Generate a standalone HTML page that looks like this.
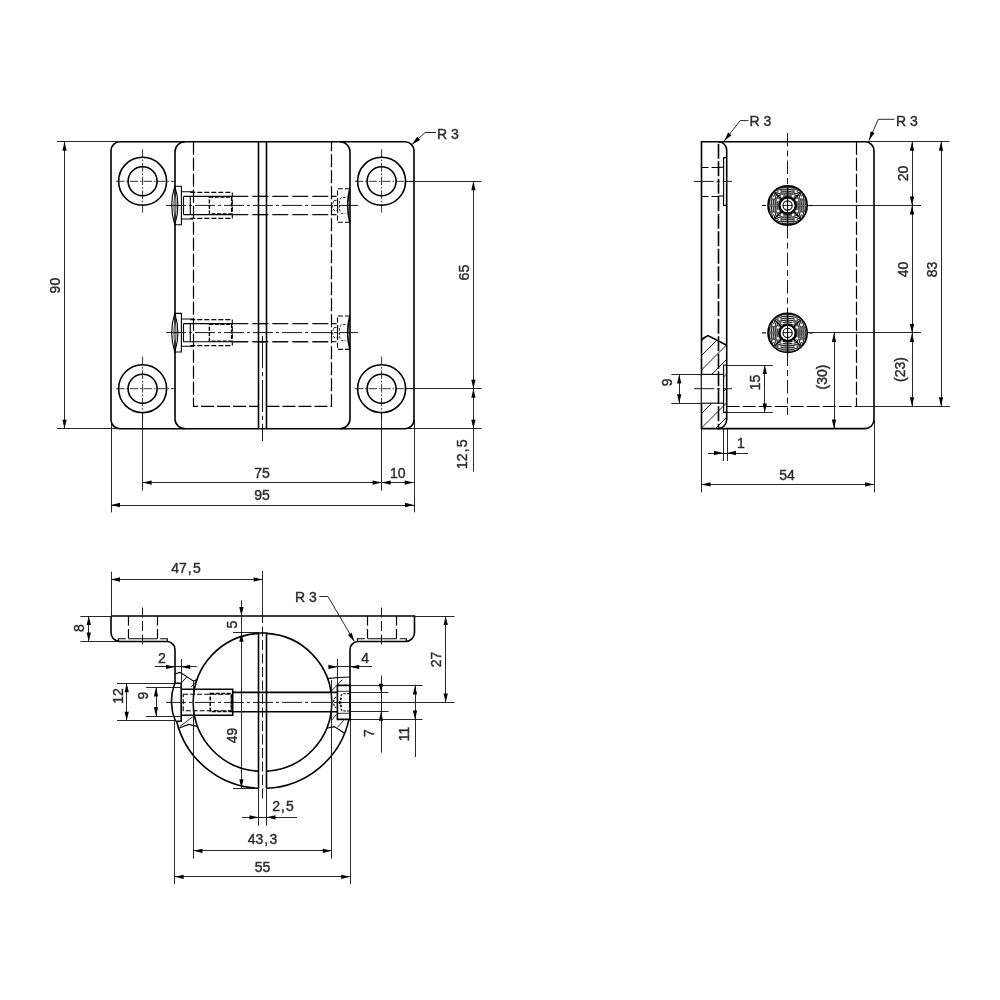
<!DOCTYPE html>
<html><head><meta charset="utf-8"><style>
html,body{margin:0;padding:0;background:#fff;}
svg{display:block;will-change:transform;}
.k{fill:none;stroke:#000;stroke-width:1.6;}
.k2{fill:none;stroke:#000;stroke-width:1.1;}
.t{fill:none;stroke:#111;stroke-width:0.9;}
.h{fill:none;stroke:#000;stroke-width:1.2;stroke-dasharray:13 3;}
.h2{fill:none;stroke:#000;stroke-width:1.1;stroke-dasharray:5 2;}
.h3{fill:none;stroke:#111;stroke-width:1.4;stroke-dasharray:16 4;}
.h7{fill:none;stroke:#000;stroke-width:1.4;stroke-dasharray:4 1.5;}
.h4{fill:none;stroke:#000;stroke-width:0.9;stroke-dasharray:2.5 1.5;}
.h5{fill:none;stroke:#000;stroke-width:1.6;stroke-dasharray:15 2.5;}
.h6{fill:none;stroke:#000;stroke-width:1.1;stroke-dasharray:7 3;}
.c{fill:none;stroke:#000;stroke-width:0.9;stroke-dasharray:38 4 3 4;}
.cs{fill:none;stroke:#000;stroke-width:0.9;stroke-dasharray:13.5 4 6 4;}
.c4{fill:none;stroke:#000;stroke-width:0.9;stroke-dasharray:32 4 4 4;}
.cb{fill:none;stroke:#000;stroke-width:0.9;stroke-dasharray:10 3.5;}
.k3{fill:none;stroke:#000;stroke-width:0.8;}
.h8{fill:none;stroke:#000;stroke-width:1.1;stroke-dasharray:2.5 1.2;}
.hh{fill:none;stroke:#000;stroke-width:1.2;stroke-dasharray:9.5 3.5;}
.c2{fill:none;stroke:#000;stroke-width:0.8;stroke-dasharray:8.5 1.8 1.6 1.8;}
.c3{fill:none;stroke:#000;stroke-width:0.9;stroke-dasharray:20 3 3 3;}
.hl{fill:none;stroke:#000;stroke-width:0.9;}
.ar{fill:#000;stroke:none;}
.knob{fill:#2a2a2a;stroke:#000;stroke-width:1.5;}
.kr{fill:none;stroke:#777;stroke-width:0.6;}
.kw{fill:#fff;stroke:none;}
.kd{fill:none;stroke:#000;stroke-width:2;}
text{font-family:"Liberation Sans",sans-serif;font-size:14px;fill:#2b2b2b;stroke:#2b2b2b;stroke-width:0.4;text-anchor:middle;}
</style></head><body>
<svg width="1000" height="1000" viewBox="0 0 1000 1000">
<path class="k" d="M120,141.8H405A9,9 0 0 1 414,150.8V419.7A9,9 0 0 1 405,428.7H120A9,9 0 0 1 111,419.7V150.8A9,9 0 0 1 120,141.8Z"/>
<path class="k" d="M175,418.7V151.8A10,10 0 0 1 185,141.8"/>
<path class="k" d="M340,141.8A10,10 0 0 1 350,151.8V418.7A10,10 0 0 1 340,428.7"/>
<path class="k" d="M175,418.7A10,10 0 0 0 185,428.7"/>
<line class="k" x1="258.5" y1="141.8" x2="258.5" y2="428.7"/>
<line class="k" x1="266.5" y1="141.8" x2="266.5" y2="428.7"/>
<line class="c4" x1="262.5" y1="336" x2="262.5" y2="441"/>
<path class="h" d="M193.5,141.8V406.3H258.5M266.5,406.3H331.5V141.8"/>
<circle class="k" cx="142.6" cy="181.3" r="24"/>
<circle class="k" cx="142.6" cy="181.3" r="14.5"/>
<line class="c2" x1="142.6" y1="149.3" x2="142.6" y2="213.3"/>
<line class="c2" x1="116.1" y1="181.3" x2="174.8" y2="181.3"/>
<circle class="k" cx="142.6" cy="388.7" r="24"/>
<circle class="k" cx="142.6" cy="388.7" r="14.5"/>
<line class="c2" x1="142.6" y1="356.7" x2="142.6" y2="420.7"/>
<line class="c2" x1="116.1" y1="388.7" x2="174.8" y2="388.7"/>
<circle class="k" cx="381.6" cy="181.3" r="24"/>
<circle class="k" cx="381.6" cy="181.3" r="14.5"/>
<line class="c2" x1="381.6" y1="149.3" x2="381.6" y2="213.3"/>
<line class="c2" x1="354.8" y1="181.3" x2="413" y2="181.3"/>
<circle class="k" cx="381.6" cy="388.7" r="24"/>
<circle class="k" cx="381.6" cy="388.7" r="14.5"/>
<line class="c2" x1="381.6" y1="356.7" x2="381.6" y2="420.7"/>
<line class="c2" x1="354.8" y1="388.7" x2="413" y2="388.7"/>
<path class="k2" d="M174.8,186.20000000000002Q168.6,205.4 174.8,224.8Q181,205.4 174.8,186.20000000000002Z"/>
<ellipse cx="175" cy="205.4" rx="1.3" ry="9" fill="#888" stroke="#333" stroke-width="0.5"/>
<path class="k2" d="M174.8,186.20000000000002H181.4V224.8H174.8M181.4,191.8H193.3M181.4,219.0H193.3"/>
<path class="h2" d="M190.3,192.4H232.3V218.4H190.3"/>
<path class="k2" d="M183.5,196.4H232.3M183.5,214.6H232.3M183.5,196.4V214.6M190.3,196.4V214.6"/>
<path class="h7" d="M209.4,197.1H231.6V213.9H209.4Z"/>
<line class="h3" x1="232.3" y1="196.4" x2="331.5" y2="196.4"/>
<line class="h3" x1="232.3" y1="214.6" x2="331.5" y2="214.6"/>
<line class="k2" x1="258.5" y1="196.4" x2="266.5" y2="196.4"/>
<line class="k2" x1="258.5" y1="214.6" x2="266.5" y2="214.6"/>
<line class="c3" x1="166" y1="205.4" x2="358" y2="205.4"/>
<path class="h2" d="M331.5,196.4H337.5V188.8H349.8M331.5,214.6H337.5V222.20000000000002H349.8"/>
<path class="k" d="M349.8,188.8Q345.5,205.4 349.8,222.20000000000002"/>
<path class="h4" d="M334,200.4H337.5V210.4H334Q331.5,205.4 334,200.4M345.5,197.4H341.5Q339.5,199.4 339.5,202.4V208.4Q339.5,211.4 341.5,213.4H345.5"/>
<line class="k2" x1="337.6" y1="197.9" x2="337.6" y2="212.9"/>
<path class="k2" d="M174.8,313.40000000000003Q168.6,332.6 174.8,352.0Q181,332.6 174.8,313.40000000000003Z"/>
<ellipse cx="175" cy="332.6" rx="1.3" ry="9" fill="#888" stroke="#333" stroke-width="0.5"/>
<path class="k2" d="M174.8,313.40000000000003H181.4V352.0H174.8M181.4,319.0H193.3M181.4,346.20000000000005H193.3"/>
<path class="h2" d="M190.3,319.6H232.3V345.6H190.3"/>
<path class="k2" d="M183.5,323.6H232.3M183.5,341.8H232.3M183.5,323.6V341.8M190.3,323.6V341.8"/>
<path class="h7" d="M209.4,324.3H231.6V341.1H209.4Z"/>
<line class="h3" x1="232.3" y1="323.6" x2="331.5" y2="323.6"/>
<line class="h3" x1="232.3" y1="341.8" x2="331.5" y2="341.8"/>
<line class="k2" x1="258.5" y1="323.6" x2="266.5" y2="323.6"/>
<line class="k2" x1="258.5" y1="341.8" x2="266.5" y2="341.8"/>
<line class="c3" x1="166" y1="332.6" x2="358" y2="332.6"/>
<path class="h2" d="M331.5,323.6H337.5V316.0H349.8M331.5,341.8H337.5V349.40000000000003H349.8"/>
<path class="k" d="M349.8,316.0Q345.5,332.6 349.8,349.40000000000003"/>
<path class="h4" d="M334,327.6H337.5V337.6H334Q331.5,332.6 334,327.6M345.5,324.6H341.5Q339.5,326.6 339.5,329.6V335.6Q339.5,338.6 341.5,340.6H345.5"/>
<line class="k2" x1="337.6" y1="325.1" x2="337.6" y2="340.1"/>
<line class="t" x1="57" y1="141.5" x2="118" y2="141.5"/>
<line class="t" x1="57" y1="428.5" x2="118" y2="428.5"/>
<line class="t" x1="64.5" y1="141.8" x2="64.5" y2="428.7"/>
<path class="ar" d="M64.50,141.80L66.65,150.80L62.35,150.80Z"/>
<path class="ar" d="M64.50,428.70L62.35,419.70L66.65,419.70Z"/>
<text x="60.1" y="285.6" transform="rotate(-90 60.1 285.6)">90</text>
<line class="t" x1="406" y1="181.5" x2="481.4" y2="181.5"/>
<line class="t" x1="406" y1="388.5" x2="481.6" y2="388.5"/>
<line class="t" x1="405" y1="428.5" x2="481.6" y2="428.5"/>
<line class="t" x1="473.5" y1="181.3" x2="473.5" y2="388.7"/>
<path class="ar" d="M473.40,181.30L475.55,190.30L471.25,190.30Z"/>
<path class="ar" d="M473.40,388.70L471.25,379.70L475.55,379.70Z"/>
<line class="t" x1="473.5" y1="388.7" x2="473.5" y2="471.7"/>
<path class="ar" d="M473.40,388.70L475.55,397.70L471.25,397.70Z"/>
<path class="ar" d="M473.40,428.70L471.25,419.70L475.55,419.70Z"/>
<text x="468.6" y="272.6" transform="rotate(-90 468.6 272.6)">65</text>
<text x="466.7" y="454.2" transform="rotate(-90 466.7 454.2)">12<tspan dx="1">,</tspan><tspan dx="1.2">5</tspan></text>
<line class="t" x1="142.5" y1="412.7" x2="142.5" y2="490.6"/>
<line class="t" x1="381.5" y1="412.7" x2="381.5" y2="490.6"/>
<line class="t" x1="111.5" y1="420" x2="111.5" y2="512.4"/>
<line class="t" x1="414.5" y1="420" x2="414.5" y2="512.4"/>
<line class="t" x1="142.6" y1="482.5" x2="413.7" y2="482.5"/>
<path class="ar" d="M142.60,482.60L151.60,480.45L151.60,484.75Z"/>
<path class="ar" d="M381.60,482.60L372.60,484.75L372.60,480.45Z"/>
<path class="ar" d="M381.60,482.60L390.60,480.45L390.60,484.75Z"/>
<path class="ar" d="M413.70,482.60L404.70,484.75L404.70,480.45Z"/>
<text x="262" y="477.7">75</text>
<text x="397.7" y="478">10</text>
<line class="t" x1="111" y1="505.5" x2="414" y2="505.5"/>
<path class="ar" d="M111.00,505.00L120.00,502.85L120.00,507.15Z"/>
<path class="ar" d="M414.00,505.00L405.00,507.15L405.00,502.85Z"/>
<text x="262" y="500">95</text>
<path class="t" d="M412,144.5L425,132.5H436"/>
<path class="ar" d="M412.00,144.50L417.15,136.82L420.07,139.98Z"/>
<text x="448" y="138.5">R 3</text>
<path class="k" d="M718.4,141.8H865A9,9 0 0 1 874,150.8V419.6A9,9 0 0 1 865,428.6H701.5V141.8H718.4"/>
<path class="k" d="M718.4,141.8A8.3,8.3 0 0 1 726.7,150.10000000000002V419.6A9,9 0 0 1 717.7,428.6"/>
<line class="h" x1="856.5" y1="141.8" x2="856.5" y2="406.2"/>
<line class="cs" x1="787.5" y1="133" x2="787.5" y2="185.9"/>
<line class="cs" x1="787.5" y1="225.1" x2="787.5" y2="313.3"/>
<line class="cs" x1="787.5" y1="352.5" x2="787.5" y2="415"/>
<clipPath id="kv0"><path d="M787.6,205.5L774.02,191.92L775.13,190.90L776.31,189.97L777.57,189.13L778.88,188.39L780.25,187.76L781.67,187.24L783.12,186.83L784.60,186.54L786.09,186.36L787.60,186.30L789.11,186.36L790.60,186.54L792.08,186.83L793.53,187.24L794.95,187.76L796.32,188.39L797.63,189.13L798.89,189.97L800.07,190.90L801.18,191.92ZM787.6,205.5L801.18,219.08L800.07,220.10L798.89,221.03L797.63,221.87L796.32,222.61L794.95,223.24L793.53,223.76L792.08,224.17L790.60,224.46L789.11,224.64L787.60,224.70L786.09,224.64L784.60,224.46L783.12,224.17L781.67,223.76L780.25,223.24L778.88,222.61L777.57,221.87L776.31,221.03L775.13,220.10L774.02,219.08Z"/></clipPath>
<clipPath id="kh0"><path d="M787.6,205.5L801.18,191.92L802.20,193.03L803.13,194.21L803.97,195.47L804.71,196.78L805.34,198.15L805.86,199.57L806.27,201.02L806.56,202.50L806.74,203.99L806.80,205.50L806.74,207.01L806.56,208.50L806.27,209.98L805.86,211.43L805.34,212.85L804.71,214.22L803.97,215.53L803.13,216.79L802.20,217.97L801.18,219.08ZM787.6,205.5L774.02,219.08L773.00,217.97L772.07,216.79L771.23,215.53L770.49,214.22L769.86,212.85L769.34,211.43L768.93,209.98L768.64,208.50L768.46,207.01L768.40,205.50L768.46,203.99L768.64,202.50L768.93,201.02L769.34,199.57L769.86,198.15L770.49,196.78L771.23,195.47L772.07,194.21L773.00,193.03L774.02,191.92Z"/></clipPath>
<circle cx="787.6" cy="205.5" r="19.6" fill="#fff"/>
<g fill="none" stroke="#000" stroke-width="0.7"><g clip-path="url(#kv0)"><circle cx="787.6" cy="237.5" r="12.50"/><circle cx="787.6" cy="237.5" r="14.40"/><circle cx="787.6" cy="237.5" r="16.30"/><circle cx="787.6" cy="237.5" r="18.20"/><circle cx="787.6" cy="237.5" r="20.10"/><circle cx="787.6" cy="237.5" r="22.00"/><circle cx="787.6" cy="237.5" r="23.90"/><circle cx="787.6" cy="237.5" r="25.80"/><circle cx="787.6" cy="237.5" r="27.70"/><circle cx="787.6" cy="237.5" r="29.60"/><circle cx="787.6" cy="237.5" r="31.50"/><circle cx="787.6" cy="237.5" r="33.40"/><circle cx="787.6" cy="237.5" r="35.30"/><circle cx="787.6" cy="237.5" r="37.20"/><circle cx="787.6" cy="237.5" r="39.10"/><circle cx="787.6" cy="237.5" r="41.00"/><circle cx="787.6" cy="237.5" r="42.90"/><circle cx="787.6" cy="237.5" r="44.80"/><circle cx="787.6" cy="237.5" r="46.70"/><circle cx="787.6" cy="237.5" r="48.60"/><circle cx="787.6" cy="237.5" r="50.50"/><circle cx="787.6" cy="173.5" r="12.50"/><circle cx="787.6" cy="173.5" r="14.40"/><circle cx="787.6" cy="173.5" r="16.30"/><circle cx="787.6" cy="173.5" r="18.20"/><circle cx="787.6" cy="173.5" r="20.10"/><circle cx="787.6" cy="173.5" r="22.00"/><circle cx="787.6" cy="173.5" r="23.90"/><circle cx="787.6" cy="173.5" r="25.80"/><circle cx="787.6" cy="173.5" r="27.70"/><circle cx="787.6" cy="173.5" r="29.60"/><circle cx="787.6" cy="173.5" r="31.50"/><circle cx="787.6" cy="173.5" r="33.40"/><circle cx="787.6" cy="173.5" r="35.30"/><circle cx="787.6" cy="173.5" r="37.20"/><circle cx="787.6" cy="173.5" r="39.10"/><circle cx="787.6" cy="173.5" r="41.00"/><circle cx="787.6" cy="173.5" r="42.90"/><circle cx="787.6" cy="173.5" r="44.80"/><circle cx="787.6" cy="173.5" r="46.70"/><circle cx="787.6" cy="173.5" r="48.60"/><circle cx="787.6" cy="173.5" r="50.50"/></g><g clip-path="url(#kh0)"><circle cx="819.6" cy="205.5" r="12.50"/><circle cx="819.6" cy="205.5" r="14.40"/><circle cx="819.6" cy="205.5" r="16.30"/><circle cx="819.6" cy="205.5" r="18.20"/><circle cx="819.6" cy="205.5" r="20.10"/><circle cx="819.6" cy="205.5" r="22.00"/><circle cx="819.6" cy="205.5" r="23.90"/><circle cx="819.6" cy="205.5" r="25.80"/><circle cx="819.6" cy="205.5" r="27.70"/><circle cx="819.6" cy="205.5" r="29.60"/><circle cx="819.6" cy="205.5" r="31.50"/><circle cx="819.6" cy="205.5" r="33.40"/><circle cx="819.6" cy="205.5" r="35.30"/><circle cx="819.6" cy="205.5" r="37.20"/><circle cx="819.6" cy="205.5" r="39.10"/><circle cx="819.6" cy="205.5" r="41.00"/><circle cx="819.6" cy="205.5" r="42.90"/><circle cx="819.6" cy="205.5" r="44.80"/><circle cx="819.6" cy="205.5" r="46.70"/><circle cx="819.6" cy="205.5" r="48.60"/><circle cx="819.6" cy="205.5" r="50.50"/><circle cx="755.6" cy="205.5" r="12.50"/><circle cx="755.6" cy="205.5" r="14.40"/><circle cx="755.6" cy="205.5" r="16.30"/><circle cx="755.6" cy="205.5" r="18.20"/><circle cx="755.6" cy="205.5" r="20.10"/><circle cx="755.6" cy="205.5" r="22.00"/><circle cx="755.6" cy="205.5" r="23.90"/><circle cx="755.6" cy="205.5" r="25.80"/><circle cx="755.6" cy="205.5" r="27.70"/><circle cx="755.6" cy="205.5" r="29.60"/><circle cx="755.6" cy="205.5" r="31.50"/><circle cx="755.6" cy="205.5" r="33.40"/><circle cx="755.6" cy="205.5" r="35.30"/><circle cx="755.6" cy="205.5" r="37.20"/><circle cx="755.6" cy="205.5" r="39.10"/><circle cx="755.6" cy="205.5" r="41.00"/><circle cx="755.6" cy="205.5" r="42.90"/><circle cx="755.6" cy="205.5" r="44.80"/><circle cx="755.6" cy="205.5" r="46.70"/><circle cx="755.6" cy="205.5" r="48.60"/><circle cx="755.6" cy="205.5" r="50.50"/></g></g>
<path d="M774.6,192.5L800.6,218.5M800.6,192.5L774.6,218.5" stroke="#000" stroke-width="1.1"/>
<g fill="#fff"><circle cx="797.13" cy="211.00" r="1.2"/><circle cx="801.46" cy="213.50" r="1.1"/><circle cx="793.10" cy="215.03" r="1.2"/><circle cx="795.60" cy="219.36" r="1.1"/><circle cx="782.10" cy="215.03" r="1.2"/><circle cx="779.60" cy="219.36" r="1.1"/><circle cx="778.07" cy="211.00" r="1.2"/><circle cx="773.74" cy="213.50" r="1.1"/><circle cx="778.07" cy="200.00" r="1.2"/><circle cx="773.74" cy="197.50" r="1.1"/><circle cx="782.10" cy="195.97" r="1.2"/><circle cx="779.60" cy="191.64" r="1.1"/><circle cx="793.10" cy="195.97" r="1.2"/><circle cx="795.60" cy="191.64" r="1.1"/><circle cx="797.13" cy="200.00" r="1.2"/><circle cx="801.46" cy="197.50" r="1.1"/></g>
<circle class="k" cx="787.6" cy="205.5" r="19.6"/>
<circle class="kd" cx="787.6" cy="205.5" r="8.2"/>
<circle class="kw" cx="787.6" cy="205.5" r="6.8"/>
<circle class="k2" cx="787.6" cy="205.5" r="4.6"/>
<line class="t" x1="783.0" y1="205.5" x2="792.2" y2="205.5"/>
<line class="k2" x1="787.6" y1="185.9" x2="787.6" y2="225.1"/>
<line class="k2" x1="762" y1="205.5" x2="766" y2="205.5"/>
<line class="k2" x1="809" y1="205.5" x2="813" y2="205.5"/>
<clipPath id="kv1"><path d="M787.6,332.9L774.02,319.32L775.13,318.30L776.31,317.37L777.57,316.53L778.88,315.79L780.25,315.16L781.67,314.64L783.12,314.23L784.60,313.94L786.09,313.76L787.60,313.70L789.11,313.76L790.60,313.94L792.08,314.23L793.53,314.64L794.95,315.16L796.32,315.79L797.63,316.53L798.89,317.37L800.07,318.30L801.18,319.32ZM787.6,332.9L801.18,346.48L800.07,347.50L798.89,348.43L797.63,349.27L796.32,350.01L794.95,350.64L793.53,351.16L792.08,351.57L790.60,351.86L789.11,352.04L787.60,352.10L786.09,352.04L784.60,351.86L783.12,351.57L781.67,351.16L780.25,350.64L778.88,350.01L777.57,349.27L776.31,348.43L775.13,347.50L774.02,346.48Z"/></clipPath>
<clipPath id="kh1"><path d="M787.6,332.9L801.18,319.32L802.20,320.43L803.13,321.61L803.97,322.87L804.71,324.18L805.34,325.55L805.86,326.97L806.27,328.42L806.56,329.90L806.74,331.39L806.80,332.90L806.74,334.41L806.56,335.90L806.27,337.38L805.86,338.83L805.34,340.25L804.71,341.62L803.97,342.93L803.13,344.19L802.20,345.37L801.18,346.48ZM787.6,332.9L774.02,346.48L773.00,345.37L772.07,344.19L771.23,342.93L770.49,341.62L769.86,340.25L769.34,338.83L768.93,337.38L768.64,335.90L768.46,334.41L768.40,332.90L768.46,331.39L768.64,329.90L768.93,328.42L769.34,326.97L769.86,325.55L770.49,324.18L771.23,322.87L772.07,321.61L773.00,320.43L774.02,319.32Z"/></clipPath>
<circle cx="787.6" cy="332.9" r="19.6" fill="#fff"/>
<g fill="none" stroke="#000" stroke-width="0.7"><g clip-path="url(#kv1)"><circle cx="787.6" cy="364.9" r="12.50"/><circle cx="787.6" cy="364.9" r="14.40"/><circle cx="787.6" cy="364.9" r="16.30"/><circle cx="787.6" cy="364.9" r="18.20"/><circle cx="787.6" cy="364.9" r="20.10"/><circle cx="787.6" cy="364.9" r="22.00"/><circle cx="787.6" cy="364.9" r="23.90"/><circle cx="787.6" cy="364.9" r="25.80"/><circle cx="787.6" cy="364.9" r="27.70"/><circle cx="787.6" cy="364.9" r="29.60"/><circle cx="787.6" cy="364.9" r="31.50"/><circle cx="787.6" cy="364.9" r="33.40"/><circle cx="787.6" cy="364.9" r="35.30"/><circle cx="787.6" cy="364.9" r="37.20"/><circle cx="787.6" cy="364.9" r="39.10"/><circle cx="787.6" cy="364.9" r="41.00"/><circle cx="787.6" cy="364.9" r="42.90"/><circle cx="787.6" cy="364.9" r="44.80"/><circle cx="787.6" cy="364.9" r="46.70"/><circle cx="787.6" cy="364.9" r="48.60"/><circle cx="787.6" cy="364.9" r="50.50"/><circle cx="787.6" cy="300.9" r="12.50"/><circle cx="787.6" cy="300.9" r="14.40"/><circle cx="787.6" cy="300.9" r="16.30"/><circle cx="787.6" cy="300.9" r="18.20"/><circle cx="787.6" cy="300.9" r="20.10"/><circle cx="787.6" cy="300.9" r="22.00"/><circle cx="787.6" cy="300.9" r="23.90"/><circle cx="787.6" cy="300.9" r="25.80"/><circle cx="787.6" cy="300.9" r="27.70"/><circle cx="787.6" cy="300.9" r="29.60"/><circle cx="787.6" cy="300.9" r="31.50"/><circle cx="787.6" cy="300.9" r="33.40"/><circle cx="787.6" cy="300.9" r="35.30"/><circle cx="787.6" cy="300.9" r="37.20"/><circle cx="787.6" cy="300.9" r="39.10"/><circle cx="787.6" cy="300.9" r="41.00"/><circle cx="787.6" cy="300.9" r="42.90"/><circle cx="787.6" cy="300.9" r="44.80"/><circle cx="787.6" cy="300.9" r="46.70"/><circle cx="787.6" cy="300.9" r="48.60"/><circle cx="787.6" cy="300.9" r="50.50"/></g><g clip-path="url(#kh1)"><circle cx="819.6" cy="332.9" r="12.50"/><circle cx="819.6" cy="332.9" r="14.40"/><circle cx="819.6" cy="332.9" r="16.30"/><circle cx="819.6" cy="332.9" r="18.20"/><circle cx="819.6" cy="332.9" r="20.10"/><circle cx="819.6" cy="332.9" r="22.00"/><circle cx="819.6" cy="332.9" r="23.90"/><circle cx="819.6" cy="332.9" r="25.80"/><circle cx="819.6" cy="332.9" r="27.70"/><circle cx="819.6" cy="332.9" r="29.60"/><circle cx="819.6" cy="332.9" r="31.50"/><circle cx="819.6" cy="332.9" r="33.40"/><circle cx="819.6" cy="332.9" r="35.30"/><circle cx="819.6" cy="332.9" r="37.20"/><circle cx="819.6" cy="332.9" r="39.10"/><circle cx="819.6" cy="332.9" r="41.00"/><circle cx="819.6" cy="332.9" r="42.90"/><circle cx="819.6" cy="332.9" r="44.80"/><circle cx="819.6" cy="332.9" r="46.70"/><circle cx="819.6" cy="332.9" r="48.60"/><circle cx="819.6" cy="332.9" r="50.50"/><circle cx="755.6" cy="332.9" r="12.50"/><circle cx="755.6" cy="332.9" r="14.40"/><circle cx="755.6" cy="332.9" r="16.30"/><circle cx="755.6" cy="332.9" r="18.20"/><circle cx="755.6" cy="332.9" r="20.10"/><circle cx="755.6" cy="332.9" r="22.00"/><circle cx="755.6" cy="332.9" r="23.90"/><circle cx="755.6" cy="332.9" r="25.80"/><circle cx="755.6" cy="332.9" r="27.70"/><circle cx="755.6" cy="332.9" r="29.60"/><circle cx="755.6" cy="332.9" r="31.50"/><circle cx="755.6" cy="332.9" r="33.40"/><circle cx="755.6" cy="332.9" r="35.30"/><circle cx="755.6" cy="332.9" r="37.20"/><circle cx="755.6" cy="332.9" r="39.10"/><circle cx="755.6" cy="332.9" r="41.00"/><circle cx="755.6" cy="332.9" r="42.90"/><circle cx="755.6" cy="332.9" r="44.80"/><circle cx="755.6" cy="332.9" r="46.70"/><circle cx="755.6" cy="332.9" r="48.60"/><circle cx="755.6" cy="332.9" r="50.50"/></g></g>
<path d="M774.6,319.9L800.6,345.9M800.6,319.9L774.6,345.9" stroke="#000" stroke-width="1.1"/>
<g fill="#fff"><circle cx="797.13" cy="338.40" r="1.2"/><circle cx="801.46" cy="340.90" r="1.1"/><circle cx="793.10" cy="342.43" r="1.2"/><circle cx="795.60" cy="346.76" r="1.1"/><circle cx="782.10" cy="342.43" r="1.2"/><circle cx="779.60" cy="346.76" r="1.1"/><circle cx="778.07" cy="338.40" r="1.2"/><circle cx="773.74" cy="340.90" r="1.1"/><circle cx="778.07" cy="327.40" r="1.2"/><circle cx="773.74" cy="324.90" r="1.1"/><circle cx="782.10" cy="323.37" r="1.2"/><circle cx="779.60" cy="319.04" r="1.1"/><circle cx="793.10" cy="323.37" r="1.2"/><circle cx="795.60" cy="319.04" r="1.1"/><circle cx="797.13" cy="327.40" r="1.2"/><circle cx="801.46" cy="324.90" r="1.1"/></g>
<circle class="k" cx="787.6" cy="332.9" r="19.6"/>
<circle class="kd" cx="787.6" cy="332.9" r="8.2"/>
<circle class="kw" cx="787.6" cy="332.9" r="6.8"/>
<circle class="k2" cx="787.6" cy="332.9" r="4.6"/>
<line class="t" x1="783.0" y1="332.5" x2="792.2" y2="332.5"/>
<line class="k2" x1="787.6" y1="313.29999999999995" x2="787.6" y2="352.5"/>
<line class="k2" x1="762" y1="332.9" x2="766" y2="332.9"/>
<line class="k2" x1="809" y1="332.9" x2="813" y2="332.9"/>
<line class="h6" x1="701.5" y1="167.5" x2="718.4" y2="167.5"/>
<line class="h6" x1="701.5" y1="196.5" x2="718.4" y2="196.5"/>
<line class="k2" x1="718.4" y1="167.3" x2="723.6" y2="167.3"/>
<line class="k2" x1="718.4" y1="196" x2="723.6" y2="196"/>
<path class="k2" d="M726.7,157.6H723.6V205.4H726.7"/>
<line class="c3" x1="693.7" y1="181.4" x2="732" y2="181.4"/>
<clipPath id="hc"><path d="M701.5,339.2L708,335.6L726.7,345.2V419.6A9,9 0 0 1 717.7,428.6H701.5Z"/></clipPath>
<g clip-path="url(#hc)"><path class="hl" d="M501.0,440L611.0,330M515.5,440L625.5,330M530.0,440L640.0,330M544.5,440L654.5,330M559.0,440L669.0,330M573.5,440L683.5,330M588.0,440L698.0,330M602.5,440L712.5,330M617.0,440L727.0,330M631.5,440L741.5,330M646.0,440L756.0,330M660.5,440L770.5,330M675.0,440L785.0,330M689.5,440L799.5,330M704.0,440L814.0,330M718.5,440L828.5,330"/><rect x="701.6" y="374.4" width="22" height="28.8" fill="#fff"/></g>
<path class="k" d="M701.5,339.2L708,335.6L726.7,345.2"/>
<line class="h5" x1="718.5" y1="143.8" x2="718.5" y2="427.6"/>
<line class="k2" x1="701.5" y1="374.4" x2="723.6" y2="374.4"/>
<line class="k2" x1="701.5" y1="403.2" x2="723.6" y2="403.2"/>
<path class="k2" d="M726.7,365H723.6V412.4H726.7"/>
<line class="c3" x1="694" y1="388.7" x2="732" y2="388.7"/>
<line class="h" x1="726.7" y1="406.5" x2="857" y2="406.5"/>
<line class="t" x1="857" y1="406.5" x2="950" y2="406.5"/>
<line class="t" x1="671.4" y1="374.5" x2="701.5" y2="374.5"/>
<line class="t" x1="671.4" y1="403.5" x2="701.5" y2="403.5"/>
<line class="t" x1="679.5" y1="374.4" x2="679.5" y2="403.2"/>
<path class="ar" d="M679.20,374.40L681.35,383.40L677.05,383.40Z"/>
<path class="ar" d="M679.20,403.20L677.05,394.20L681.35,394.20Z"/>
<text x="672.2" y="382.4" transform="rotate(-90 672.2 382.4)">9</text>
<line class="t" x1="726.7" y1="365.5" x2="772.8" y2="365.5"/>
<line class="t" x1="726.7" y1="412.5" x2="772.8" y2="412.5"/>
<line class="t" x1="764.5" y1="365" x2="764.5" y2="412.4"/>
<path class="ar" d="M764.80,365.00L766.95,374.00L762.65,374.00Z"/>
<path class="ar" d="M764.80,412.40L762.65,403.40L766.95,403.40Z"/>
<text x="759.8" y="382.4" transform="rotate(-90 759.8 382.4)">15</text>
<line class="t" x1="723.5" y1="428.6" x2="723.5" y2="461"/>
<line class="t" x1="727.5" y1="428.6" x2="727.5" y2="461"/>
<line class="t" x1="708" y1="453.5" x2="748" y2="453.5"/>
<path class="ar" d="M723.00,453.00L714.00,455.15L714.00,450.85Z"/>
<path class="ar" d="M727.00,453.00L736.00,450.85L736.00,455.15Z"/>
<text x="741" y="448">1</text>
<line class="t" x1="701.5" y1="428.6" x2="701.5" y2="492.4"/>
<line class="t" x1="874.5" y1="420" x2="874.5" y2="492.4"/>
<line class="t" x1="701.5" y1="484.5" x2="874" y2="484.5"/>
<path class="ar" d="M701.50,484.40L710.50,482.25L710.50,486.55Z"/>
<path class="ar" d="M874.00,484.40L865.00,486.55L865.00,482.25Z"/>
<text x="787" y="480">54</text>
<line class="t" x1="866" y1="141.5" x2="949.5" y2="141.5"/>
<line class="t" x1="808" y1="205.5" x2="921" y2="205.5"/>
<line class="t" x1="808" y1="332.5" x2="921" y2="332.5"/>
<line class="t" x1="912.5" y1="141.8" x2="912.5" y2="406.2"/>
<path class="ar" d="M912.00,141.80L914.15,150.80L909.85,150.80Z"/>
<path class="ar" d="M912.00,205.50L909.85,196.50L914.15,196.50Z"/>
<path class="ar" d="M912.00,205.50L914.15,214.50L909.85,214.50Z"/>
<path class="ar" d="M912.00,332.90L909.85,323.90L914.15,323.90Z"/>
<path class="ar" d="M912.00,332.90L914.15,341.90L909.85,341.90Z"/>
<path class="ar" d="M912.00,406.20L909.85,397.20L914.15,397.20Z"/>
<line class="t" x1="941.5" y1="141.8" x2="941.5" y2="406.2"/>
<path class="ar" d="M941.00,141.80L943.15,150.80L938.85,150.80Z"/>
<path class="ar" d="M941.00,406.20L938.85,397.20L943.15,397.20Z"/>
<line class="t" x1="834.5" y1="332.9" x2="834.5" y2="428.6"/>
<path class="ar" d="M834.00,332.90L836.15,341.90L831.85,341.90Z"/>
<path class="ar" d="M834.00,428.60L831.85,419.60L836.15,419.60Z"/>
<text x="908" y="173.5" transform="rotate(-90 908 173.5)">20</text>
<text x="908" y="269.5" transform="rotate(-90 908 269.5)">40</text>
<text x="936.5" y="269.5" transform="rotate(-90 936.5 269.5)">83</text>
<text x="905" y="369.5" transform="rotate(-90 905 369.5)">(23)</text>
<text x="827" y="377" transform="rotate(-90 827 377)">(30)</text>
<path class="t" d="M724.2,141L740.2,120.6H748.3"/>
<path class="ar" d="M724.20,141.00L728.06,132.59L731.45,135.25Z"/>
<text x="760.5" y="126">R 3</text>
<path class="t" d="M869,140.5L878.2,119.3H894.4"/>
<path class="ar" d="M869.00,140.50L870.61,131.39L874.56,133.10Z"/>
<text x="907" y="126">R 3</text>
<path class="k" d="M111,616H414.5V632.5A9,9 0 0 1 405.5,641.5H358A8,8 0 0 0 350,649.5V719.4"/>
<path class="k" d="M111,616V632.5A9,9 0 0 0 120,641.5H167A8,8 0 0 1 175,649.5V683.2"/>
<line class="hh" x1="128.5" y1="616" x2="128.5" y2="638.8"/>
<line class="hh" x1="157.5" y1="616" x2="157.5" y2="638.8"/>
<path class="k2" d="M118.30000000000001,641.5V638.8H125.80000000000001M128.4,638.8H157.2M160.2,638.8H167.3V641.5"/>
<line class="cb" x1="142.5" y1="607.6" x2="142.5" y2="646"/>
<line class="hh" x1="367.5" y1="616" x2="367.5" y2="638.8"/>
<line class="hh" x1="396.5" y1="616" x2="396.5" y2="638.8"/>
<path class="k2" d="M357.4,641.5V638.8H364.9M367.6,638.8H396.7M399.7,638.8H406.4V641.5"/>
<line class="cb" x1="381.5" y1="607.6" x2="381.5" y2="646"/>
<path class="k" d="M258.5,633.4A69,69 0 0 0 258.5,771.2"/>
<path class="k" d="M266.5,633.4A69,69 0 0 1 266.5,771.2"/>
<path class="k" d="M258.5,788.3A88.3,88.3 0 0 1 176.6,721.2"/>
<path class="k" d="M266.5,788.3A88.3,88.3 0 0 0 349.0,719.4"/>
<path class="k" d="M258.5,788.3V633H266.5V788.3"/>
<line class="t" x1="262.5" y1="571" x2="262.5" y2="613"/>
<line class="cb" x1="262.5" y1="613" x2="262.5" y2="800"/>
<path class="k2" d="M174.8,674L180,672.4L193.6,681.2L196.8,679.6"/>
<path class="k" d="M174.8,683.2H181.2V721.2H175.5"/>
<path class="k" d="M174.8,683.2Q167.6,702.4 175.5,721.2"/>
<path class="k" d="M181.2,689.3H232.7V715.2H181.2"/>
<path class="h2" d="M183.2,694.2H231.2V710.7H183.2Z"/>
<path class="h7" d="M210.2,693.5H231.5V711.5H210.2Z"/>
<path class="k" d="M232.7,692.4H337.4M232.7,711.8H337.4"/>
<path class="k2" d="M179.2,728L188.8,724.4L197.2,726.4"/>
<path class="t" d="M181.6,682.8L186.4,677.2M191.2,686.8L196.8,680.8M180,726.4L192.8,716.8"/>
<path class="k2" d="M327,678.6Q338,677.2 350.2,677"/>
<path class="k" d="M337.4,685.4H350.2V719.4H337.4Z"/>
<line class="k3" x1="337.4" y1="691.3" x2="350.2" y2="691.3"/>
<line class="k3" x1="337.4" y1="713.3" x2="350.2" y2="713.3"/>
<path class="h8" d="M349.5,693.8H342.8Q340.8,694.5 340.8,697.5V707.3Q340.8,710.3 342.8,711H349.5"/>
<path class="h8" d="M336.2,697Q333.6,698 333.6,702.4Q333.6,706.8 336.2,707.8"/>
<path class="h8" d="M342,698.5Q339.5,699.5 339.5,702.4Q339.5,705.3 342,706.3"/>
<path class="k2" d="M326.6,728.2L334.2,726.6L344.2,733"/>
<path class="t" d="M342.2,679.8L331,691.4M336.6,714.2L331,721M343.8,720.2L337.4,727.4"/>
<line class="c3" x1="166" y1="702.4" x2="337.4" y2="702.4"/>
<line class="t" x1="111.5" y1="571.6" x2="111.5" y2="616"/>
<line class="t" x1="111" y1="579.5" x2="262.7" y2="579.5"/>
<path class="ar" d="M111.00,579.50L120.00,577.35L120.00,581.65Z"/>
<path class="ar" d="M262.70,579.50L253.70,581.65L253.70,577.35Z"/>
<text x="186" y="573">47<tspan dx="1">,</tspan><tspan dx="1.2">5</tspan></text>
<line class="t" x1="80.4" y1="616.5" x2="111" y2="616.5"/>
<line class="t" x1="80.4" y1="641.5" x2="119" y2="641.5"/>
<line class="t" x1="88.5" y1="616" x2="88.5" y2="641.5"/>
<path class="ar" d="M88.80,616.00L90.95,625.00L86.65,625.00Z"/>
<path class="ar" d="M88.80,641.50L86.65,632.50L90.95,632.50Z"/>
<text x="84.2" y="628" transform="rotate(-90 84.2 628)">8</text>
<line class="t" x1="241.5" y1="600.4" x2="241.5" y2="788.3"/>
<path class="ar" d="M241.40,616.00L239.25,607.00L243.55,607.00Z"/>
<path class="ar" d="M241.40,632.80L243.55,641.80L239.25,641.80Z"/>
<path class="ar" d="M241.40,788.30L239.25,779.30L243.55,779.30Z"/>
<line class="t" x1="233" y1="632.5" x2="258.5" y2="632.5"/>
<line class="t" x1="233" y1="788.5" x2="258.5" y2="788.5"/>
<text x="236.8" y="624.5" transform="rotate(-90 236.8 624.5)">5</text>
<text x="236.5" y="735.5" transform="rotate(-90 236.5 735.5)">49</text>
<line class="t" x1="154.8" y1="666.5" x2="196.8" y2="666.5"/>
<path class="ar" d="M175.00,666.90L166.00,669.05L166.00,664.75Z"/>
<path class="ar" d="M181.20,666.90L190.20,664.75L190.20,669.05Z"/>
<line class="t" x1="181.5" y1="659" x2="181.5" y2="683.2"/>
<text x="162" y="663">2</text>
<line class="t" x1="329" y1="666.5" x2="372" y2="666.5"/>
<path class="ar" d="M337.40,666.90L328.40,669.05L328.40,664.75Z"/>
<path class="ar" d="M350.20,666.90L359.20,664.75L359.20,669.05Z"/>
<line class="t" x1="337.5" y1="659" x2="337.5" y2="685.4"/>
<text x="365.2" y="663">4</text>
<line class="t" x1="414.5" y1="616.5" x2="454.5" y2="616.5"/>
<line class="t" x1="337.4" y1="702.5" x2="454.5" y2="702.5"/>
<line class="t" x1="445.5" y1="616" x2="445.5" y2="702.4"/>
<path class="ar" d="M445.70,616.00L447.85,625.00L443.55,625.00Z"/>
<path class="ar" d="M445.70,702.40L443.55,693.40L447.85,693.40Z"/>
<text x="441.2" y="659.4" transform="rotate(-90 441.2 659.4)">27</text>
<line class="t" x1="117" y1="683.5" x2="175" y2="683.5"/>
<line class="t" x1="117" y1="720.5" x2="175" y2="720.5"/>
<line class="t" x1="126.5" y1="683.3" x2="126.5" y2="720.8"/>
<path class="ar" d="M126.70,683.30L128.85,692.30L124.55,692.30Z"/>
<path class="ar" d="M126.70,720.80L124.55,711.80L128.85,711.80Z"/>
<text x="122.6" y="696" transform="rotate(-90 122.6 696)">12</text>
<line class="t" x1="146" y1="687.5" x2="181" y2="687.5"/>
<line class="t" x1="146" y1="716.5" x2="181" y2="716.5"/>
<line class="t" x1="156.5" y1="687.5" x2="156.5" y2="716"/>
<path class="ar" d="M156.00,687.50L158.15,696.50L153.85,696.50Z"/>
<path class="ar" d="M156.00,716.00L153.85,707.00L158.15,707.00Z"/>
<text x="148.2" y="695.5" transform="rotate(-90 148.2 695.5)">9</text>
<line class="t" x1="350" y1="692.5" x2="388.5" y2="692.5"/>
<line class="t" x1="350" y1="711.5" x2="388.5" y2="711.5"/>
<line class="t" x1="381.5" y1="675.5" x2="381.5" y2="752.7"/>
<path class="ar" d="M381.00,692.70L378.85,683.70L383.15,683.70Z"/>
<path class="ar" d="M381.00,711.80L383.15,720.80L378.85,720.80Z"/>
<text x="373.7" y="733" transform="rotate(-90 373.7 733)">7</text>
<line class="t" x1="350" y1="685.5" x2="422.6" y2="685.5"/>
<line class="t" x1="350" y1="719.5" x2="422.6" y2="719.5"/>
<line class="t" x1="415.5" y1="684.8" x2="415.5" y2="757"/>
<path class="ar" d="M415.00,685.40L417.15,694.40L412.85,694.40Z"/>
<path class="ar" d="M415.00,719.40L412.85,710.40L417.15,710.40Z"/>
<text x="409" y="734" transform="rotate(-90 409 734)">11</text>
<line class="t" x1="258.5" y1="788.3" x2="258.5" y2="825.6"/>
<line class="t" x1="266.5" y1="788.3" x2="266.5" y2="825.6"/>
<line class="t" x1="242" y1="817.5" x2="297" y2="817.5"/>
<path class="ar" d="M258.50,817.30L249.50,819.45L249.50,815.15Z"/>
<path class="ar" d="M266.50,817.30L275.50,815.15L275.50,819.45Z"/>
<text x="283" y="811">2<tspan dx="1">,</tspan><tspan dx="1.2">5</tspan></text>
<line class="t" x1="193.5" y1="680" x2="193.5" y2="858.7"/>
<line class="t" x1="331.5" y1="680" x2="331.5" y2="858.7"/>
<line class="t" x1="193.5" y1="850.5" x2="331.8" y2="850.5"/>
<path class="ar" d="M193.50,850.80L202.50,848.65L202.50,852.95Z"/>
<path class="ar" d="M331.80,850.80L322.80,852.95L322.80,848.65Z"/>
<text x="262.5" y="844">43<tspan dx="1">,</tspan><tspan dx="1.2">3</tspan></text>
<line class="t" x1="174.5" y1="721.2" x2="174.5" y2="884"/>
<line class="t" x1="350.5" y1="719.4" x2="350.5" y2="884"/>
<line class="t" x1="174.7" y1="876.5" x2="350.2" y2="876.5"/>
<path class="ar" d="M174.70,876.80L183.70,874.65L183.70,878.95Z"/>
<path class="ar" d="M350.20,876.80L341.20,878.95L341.20,874.65Z"/>
<text x="262.5" y="872">55</text>
<path class="t" d="M354.4,641.6L328,596.5H319.2"/>
<path class="ar" d="M354.40,641.60L348.00,634.92L351.71,632.75Z"/>
<text x="306" y="602">R 3</text>
</svg>
</body></html>
